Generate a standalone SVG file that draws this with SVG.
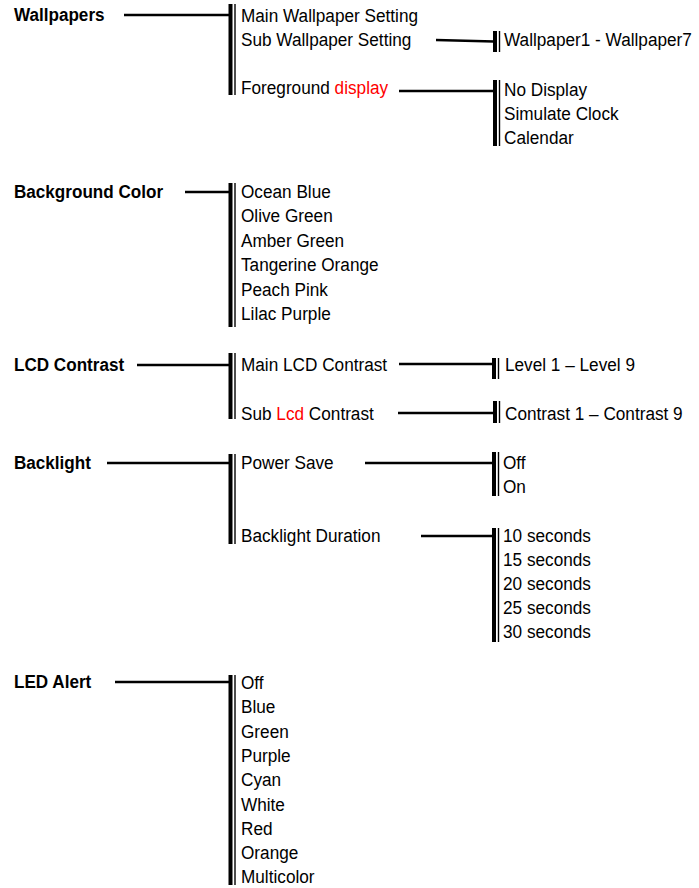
<svg xmlns="http://www.w3.org/2000/svg" width="699" height="888" viewBox="0 0 699 888">
<style>
  text { font-family: "Liberation Sans", Arial, sans-serif; font-size: 19px; fill: #000; }
  .b { font-weight: bold; }
  .red { fill: #ff0000; }
  .conn { stroke: #000; stroke-width: 2.5; fill: none; }
  .thick { stroke: #000; stroke-width: 4; fill: none; }
  .thin { stroke: #000; stroke-width: 1.4; fill: none; }
</style>
<rect width="699" height="888" fill="#fff"/>

<g id="connectors">
  <!-- Wallpapers -->
  <path class="conn" d="M124,15 H229"/>
  <path class="thick" d="M230.5,4 V95"/>
  <path class="thin" d="M235,4 V95"/>
  <path class="conn" d="M436,40 L494,41.5"/>
  <path class="thick" d="M495,31 V52"/>
  <path class="thin" d="M499.5,31 V52"/>
  <path class="conn" d="M399,91 H494"/>
  <path class="thick" d="M495,80 V146"/>
  <path class="thin" d="M499.5,80 V146"/>
  <!-- Background Color -->
  <path class="conn" d="M185,192 H229"/>
  <path class="thick" d="M230.5,183 V327"/>
  <path class="thin" d="M235,183 V327"/>
  <!-- LCD Contrast -->
  <path class="conn" d="M137,365 H229"/>
  <path class="thick" d="M230.5,353 V419"/>
  <path class="thin" d="M235,353 V419"/>
  <path class="conn" d="M399,364 H493"/>
  <path class="thick" d="M494,358 V379"/>
  <path class="thin" d="M498.5,358 V379"/>
  <path class="conn" d="M398,413 H494"/>
  <path class="thick" d="M495,401 V423"/>
  <path class="thin" d="M499.5,401 V423"/>
  <!-- Backlight -->
  <path class="conn" d="M107,463 H229"/>
  <path class="thick" d="M230.5,454 V544"/>
  <path class="thin" d="M235,454 V544"/>
  <path class="conn" d="M365,463 H493"/>
  <path class="thick" d="M494,452 V496"/>
  <path class="thin" d="M498.5,452 V496"/>
  <path class="conn" d="M421,536 H493"/>
  <path class="thick" d="M494,528 V642"/>
  <path class="thin" d="M498.5,528 V642"/>
  <!-- LED Alert -->
  <path class="conn" d="M115,682 H229"/>
  <path class="thick" d="M230.5,675 V885"/>
  <path class="thin" d="M235,675 V885"/>
</g>

<g id="wallpapers"><text class="b" transform="translate(14,21) scale(0.9,1)">Wallpapers</text></g>
<g id="main-wallpaper"><text transform="translate(241,21.5) scale(0.905,1)">Main Wallpaper Setting</text></g>
<g id="sub-wallpaper"><text transform="translate(241,45.5) scale(0.905,1)">Sub Wallpaper Setting</text></g>
<g id="foreground"><text transform="translate(241,93.5) scale(0.905,1)">Foreground <tspan class="red">display</tspan></text></g>
<g id="wallpaper-range"><text transform="translate(504,46) scale(0.905,1)">Wallpaper1 - Wallpaper7</text></g>
<g id="foreground-options">
  <text transform="translate(504,95.5) scale(0.905,1)">No Display</text>
  <text transform="translate(504,119.5) scale(0.905,1)">Simulate Clock</text>
  <text transform="translate(504,143.5) scale(0.905,1)">Calendar</text>
</g>

<g id="background-color"><text class="b" transform="translate(14,198) scale(0.9,1)">Background Color</text></g>
<g id="background-options">
  <text transform="translate(241,198) scale(0.905,1)">Ocean Blue</text>
  <text transform="translate(241,222.4) scale(0.905,1)">Olive Green</text>
  <text transform="translate(241,246.8) scale(0.905,1)">Amber Green</text>
  <text transform="translate(241,271.2) scale(0.905,1)">Tangerine Orange</text>
  <text transform="translate(241,295.6) scale(0.905,1)">Peach Pink</text>
  <text transform="translate(241,320) scale(0.905,1)">Lilac Purple</text>
</g>

<g id="lcd-contrast"><text class="b" transform="translate(14,371) scale(0.9,1)">LCD Contrast</text></g>
<g id="main-lcd"><text transform="translate(241,371) scale(0.905,1)">Main LCD Contrast</text></g>
<g id="sub-lcd"><text transform="translate(241,420) scale(0.905,1)">Sub <tspan class="red">Lcd</tspan> Contrast</text></g>
<g id="level-range"><text transform="translate(505,371) scale(0.905,1)">Level 1 – Level 9</text></g>
<g id="contrast-range"><text transform="translate(505,420) scale(0.905,1)">Contrast 1 – Contrast 9</text></g>

<g id="backlight"><text class="b" transform="translate(14,469) scale(0.9,1)">Backlight</text></g>
<g id="power-save"><text transform="translate(241,469) scale(0.905,1)">Power Save</text></g>
<g id="backlight-duration"><text transform="translate(241,541.5) scale(0.905,1)">Backlight Duration</text></g>
<g id="power-save-options">
  <text transform="translate(503,469) scale(0.905,1)">Off</text>
  <text transform="translate(503,493) scale(0.905,1)">On</text>
</g>
<g id="duration-options">
  <text transform="translate(503,542) scale(0.905,1)">10 seconds</text>
  <text transform="translate(503,566) scale(0.905,1)">15 seconds</text>
  <text transform="translate(503,590) scale(0.905,1)">20 seconds</text>
  <text transform="translate(503,614) scale(0.905,1)">25 seconds</text>
  <text transform="translate(503,638) scale(0.905,1)">30 seconds</text>
</g>

<g id="led-alert"><text class="b" transform="translate(14,688) scale(0.9,1)">LED Alert</text></g>
<g id="led-options">
  <text transform="translate(241,689) scale(0.905,1)">Off</text>
  <text transform="translate(241,713.3) scale(0.905,1)">Blue</text>
  <text transform="translate(241,737.6) scale(0.905,1)">Green</text>
  <text transform="translate(241,761.9) scale(0.905,1)">Purple</text>
  <text transform="translate(241,786.2) scale(0.905,1)">Cyan</text>
  <text transform="translate(241,810.5) scale(0.905,1)">White</text>
  <text transform="translate(241,834.8) scale(0.905,1)">Red</text>
  <text transform="translate(241,859.1) scale(0.905,1)">Orange</text>
  <text transform="translate(241,883.4) scale(0.905,1)">Multicolor</text>
</g>
</svg>
